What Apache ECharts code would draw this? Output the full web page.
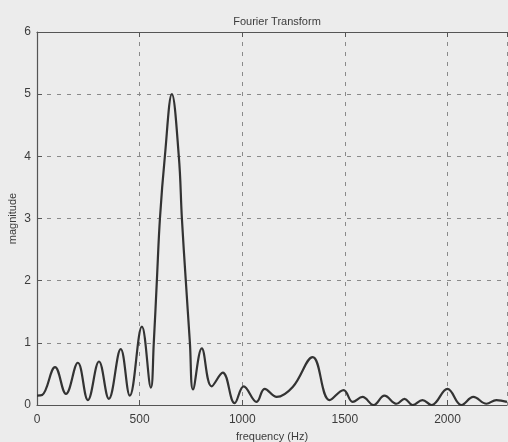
<!DOCTYPE html>
<html>
<head>
<meta charset="utf-8">
<script src="https://cdn.jsdelivr.net/npm/echarts@6/dist/echarts.min.js"></script>
<style>
  html, body { margin: 0; padding: 0; background: #ececec; }
  #chart { width: 508px; height: 442px; }
</style>
</head>
<body>
<div id="chart"></div>
<script>
// Magnitude spectrum samples (frequency in Hz, magnitude)
const frequencies = [0, 25, 88, 141, 199, 248, 302, 350, 408, 452, 511, 555, 569, 584, 599, 623, 657, 691, 706, 725, 745, 760, 803, 851, 905, 963, 1007, 1070, 1109, 1168, 1246, 1343, 1426, 1494, 1538, 1586, 1640, 1693, 1752, 1791, 1830, 1878, 1922, 2000, 2068, 2126, 2190, 2238, 2290];
const magnitudes  = [0.15, 0.16, 0.61, 0.18, 0.68, 0.08, 0.70, 0.10, 0.90, 0.15, 1.26, 0.28, 1.0, 2.0, 3.0, 4.0, 5.0, 4.0, 3.0, 2.0, 1.0, 0.25, 0.91, 0.30, 0.52, 0.03, 0.30, 0.05, 0.26, 0.13, 0.29, 0.77, 0.08, 0.24, 0.05, 0.13, 0.0, 0.15, 0.02, 0.10, 0.0, 0.08, 0.0, 0.26, 0.0, 0.13, 0.02, 0.08, 0.05];
const xTicks = [0, 500, 1000, 1500, 2000];
const yTicks = [0, 1, 2, 3, 4, 5, 6];

const spectrum = frequencies.map((f, i) => [f, magnitudes[i]]);

const textColor = '#3c3c3c';
const gridStyle = { color: '#8a8a8a', width: 1, type: [4, 6] };

const chart = echarts.init(document.getElementById('chart'), null, { renderer: 'canvas' });
chart.setOption({
  backgroundColor: '#ececec',
  animation: false,
  title: {
    text: 'Fourier Transform',
    left: 272,
    top: 11,
    textAlign: 'center',
    textStyle: { fontFamily: 'Liberation Sans', fontSize: 11, fontWeight: 'normal', color: textColor }
  },
  grid: { left: 37, right: 1, top: 32, bottom: 37, outerBoundsMode: 'none', containLabel: false },
  xAxis: [{
    type: 'value',
    min: 0,
    max: 2290,
    interval: 500,
    name: 'frequency (Hz)',
    nameLocation: 'middle',
    nameGap: 26,
    nameTextStyle: { fontFamily: 'Liberation Sans', fontSize: 11, color: textColor },
    axisLine: { show: true, lineStyle: { color: '#555', width: 1.2 } },
    axisTick: { show: true, inside: true, length: 5, lineStyle: { color: '#555' } },
    axisLabel: {
      margin: 9, fontFamily: 'Liberation Sans', fontSize: 12, color: textColor,
      showMaxLabel: false,
      formatter: v => (xTicks.includes(v) ? String(v) : '')
    },
    splitLine: { show: true, lineStyle: gridStyle }
  }, {
    type: 'value',
    position: 'top',
    min: 0,
    max: 2290,
    interval: 500,
    axisLine: { show: true, onZero: false, lineStyle: { color: '#555', width: 1.2 } },
    axisTick: { show: true, inside: true, length: 5, lineStyle: { color: '#555' } },
    axisLabel: { show: false },
    splitLine: { show: false }
  }],
  yAxis: {
    type: 'value',
    min: 0,
    max: 6,
    interval: 1,
    name: 'magnitude',
    nameLocation: 'middle',
    nameGap: 19,
    nameMoveOverlap: false,
    nameTextStyle: { fontFamily: 'Liberation Sans', fontSize: 11, color: textColor },
    axisLine: { show: true, lineStyle: { color: '#555', width: 1.2 } },
    axisTick: { show: true, inside: true, length: 5, lineStyle: { color: '#555' } },
    axisLabel: {
      margin: 6, fontFamily: 'Liberation Sans', fontSize: 12, color: textColor,
      formatter: v => (yTicks.includes(v) ? String(v) : '')
    },
    splitLine: { show: true, lineStyle: gridStyle }
  },
  series: [{
    type: 'line',
    data: spectrum,
    xAxisIndex: 0,
    smooth: 0.4,
    symbol: 'none',
    lineStyle: { color: '#333', width: 2.2 }
  }]
});
</script>
</body>
</html>
